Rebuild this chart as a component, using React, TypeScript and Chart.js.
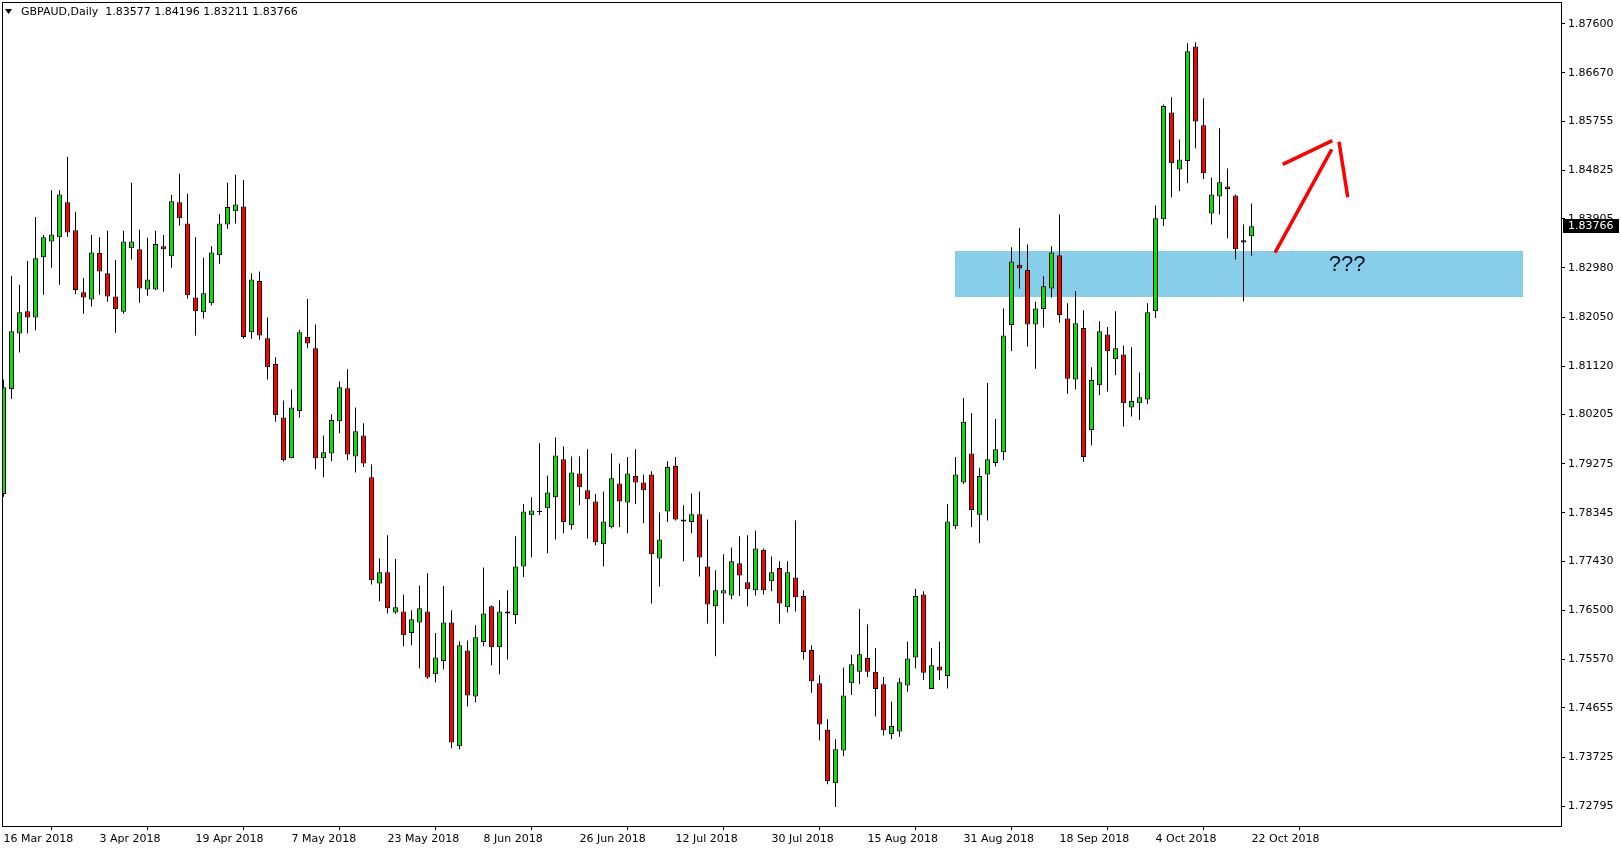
import React, { useEffect, useRef } from "react";
import { Chart, registerables } from "chart.js";

Chart.register(...registerables);

// ---- Data (GBPAUD daily, 16 Mar 2018 .. 22 Oct 2018) ----
const OPEN = [
  1.7870, 1.8069, 1.8174, 1.8216, 1.8204, 1.8318, 1.8348, 1.8356, 1.8422, 1.8369,
  1.8252, 1.8238, 1.8326, 1.8288, 1.8244, 1.8215, 1.8335, 1.8333, 1.8257, 1.8257,
  1.8339, 1.8320, 1.8422, 1.8382, 1.8242, 1.8214, 1.8231, 1.8322, 1.8380, 1.8405,
  1.8414, 1.8176, 1.8273, 1.8165, 1.8116, 1.8015, 1.7938, 1.8027, 1.8167, 1.8146,
  1.7938, 1.7947, 1.8008, 1.8070, 1.7941, 1.7981, 1.7902, 1.7701, 1.7722, 1.7646,
  1.7648, 1.7607, 1.7627, 1.7648, 1.7529, 1.7554, 1.7627, 1.7393, 1.7574, 1.7487,
  1.7590, 1.7658, 1.7580, 1.7648, 1.7641, 1.7733, 1.7830, 1.7836, 1.7843, 1.7864,
  1.7936, 1.7811, 1.7909, 1.7877, 1.7856, 1.7775, 1.7807, 1.7890, 1.7854, 1.7904,
  1.7892, 1.7907, 1.7748, 1.7837, 1.7923, 1.7822, 1.7817, 1.7832, 1.7733, 1.7658,
  1.7682, 1.7678, 1.7739, 1.7703, 1.7688, 1.7764, 1.7705, 1.7730, 1.7656, 1.7712,
  1.7677, 1.7575, 1.7512, 1.7424, 1.7323, 1.7385, 1.7512, 1.7534, 1.7560, 1.7534,
  1.7510, 1.7416, 1.7421, 1.7508, 1.7561, 1.7680, 1.7501, 1.7544, 1.7526, 1.7809,
  1.7892, 1.7947, 1.7831, 1.7907, 1.7929, 1.7949, 1.8190, 1.8304, 1.8294, 1.8191,
  1.8220, 1.8259, 1.8322, 1.8202, 1.8087, 1.8184, 1.7991, 1.8076, 1.8172, 1.8125,
  1.8134, 1.8034, 1.8042, 1.8049, 1.8216, 1.8390, 1.8592, 1.8484, 1.8500, 1.8717,
  1.8568, 1.8401, 1.8433, 1.8452, 1.8435, 1.8350, 1.83577,
];
const HIGH = [
  1.8087, 1.8283, 1.8266, 1.8311, 1.8394, 1.8360, 1.8445, 1.8445, 1.8508, 1.8404,
  1.8279, 1.8360, 1.8356, 1.8368, 1.8313, 1.8368, 1.8459, 1.8370, 1.8355, 1.8368,
  1.8360, 1.8436, 1.8476, 1.8438, 1.8356, 1.8317, 1.8339, 1.8400, 1.8459, 1.8474,
  1.8464, 1.8288, 1.8291, 1.8204, 1.8129, 1.8047, 1.8068, 1.8181, 1.8239, 1.8191,
  1.7981, 1.8021, 1.8083, 1.8106, 1.8034, 1.8004, 1.7926, 1.7748, 1.7792, 1.7747,
  1.7680, 1.7650, 1.7697, 1.7720, 1.7607, 1.7696, 1.7650, 1.7591, 1.7593, 1.7622,
  1.7731, 1.7659, 1.7669, 1.7688, 1.7790, 1.7851, 1.7864, 1.7966, 1.7905, 1.7977,
  1.7960, 1.7941, 1.7941, 1.7955, 1.7870, 1.7875, 1.7947, 1.7928, 1.7940, 1.7955,
  1.7907, 1.7913, 1.7835, 1.7932, 1.7940, 1.7849, 1.7871, 1.7875, 1.7822, 1.7726,
  1.7756, 1.7769, 1.7790, 1.7792, 1.7801, 1.7767, 1.7752, 1.7743, 1.7743, 1.7820,
  1.7688, 1.7584, 1.7527, 1.7444, 1.7406, 1.7542, 1.7566, 1.7653, 1.7623, 1.7579,
  1.7524, 1.7477, 1.7522, 1.7591, 1.7691, 1.7686, 1.7579, 1.7591, 1.7851, 1.7940,
  1.8052, 1.8023, 1.7920, 1.8080, 1.8012, 1.8221, 1.8337, 1.8374, 1.8342, 1.8234,
  1.8282, 1.8339, 1.8399, 1.8231, 1.8254, 1.8218, 1.8110, 1.8197, 1.8186, 1.8216,
  1.8151, 1.8148, 1.8100, 1.8231, 1.8416, 1.8607, 1.8621, 1.8541, 1.8723, 1.8725,
  1.8619, 1.8469, 1.8562, 1.8486, 1.8437, 1.8380, 1.84196,
];
const LOW = [
  1.7865, 1.8050, 1.8138, 1.8174, 1.8180, 1.8247, 1.8298, 1.8266, 1.8357, 1.8248,
  1.8211, 1.8225, 1.8247, 1.8234, 1.8175, 1.8211, 1.8314, 1.8232, 1.8245, 1.8256,
  1.8253, 1.8298, 1.8378, 1.8240, 1.8170, 1.8202, 1.8227, 1.8306, 1.8372, 1.8382,
  1.8164, 1.8164, 1.8162, 1.8087, 1.8007, 1.7931, 1.7938, 1.8015, 1.8146, 1.7917,
  1.7902, 1.7932, 1.7985, 1.7934, 1.7911, 1.7921, 1.7699, 1.7667, 1.7644, 1.7643,
  1.7582, 1.7584, 1.7540, 1.7520, 1.7514, 1.7538, 1.7389, 1.7387, 1.7468, 1.7476,
  1.7582, 1.7546, 1.7529, 1.7557, 1.7624, 1.7713, 1.7750, 1.7830, 1.7758, 1.7784,
  1.7796, 1.7803, 1.7849, 1.7786, 1.7773, 1.7733, 1.7805, 1.7807, 1.7796, 1.7851,
  1.7815, 1.7663, 1.7695, 1.7817, 1.7820, 1.7743, 1.7796, 1.7714, 1.7625, 1.7563,
  1.7625, 1.7671, 1.7677, 1.7658, 1.7678, 1.7680, 1.7686, 1.7625, 1.7646, 1.7648,
  1.7557, 1.7494, 1.7404, 1.7321, 1.7278, 1.7374, 1.7490, 1.7510, 1.7524, 1.7449,
  1.7413, 1.7406, 1.7411, 1.7496, 1.7540, 1.7518, 1.7501, 1.7518, 1.7502, 1.7804,
  1.7889, 1.7807, 1.7777, 1.7820, 1.7922, 1.7934, 1.8140, 1.8259, 1.8149, 1.8107,
  1.8185, 1.8242, 1.8194, 1.8060, 1.8068, 1.7931, 1.7962, 1.8057, 1.8064, 1.8095,
  1.7998, 1.8017, 1.8010, 1.8040, 1.8203, 1.8377, 1.8431, 1.8443, 1.8458, 1.8524,
  1.8466, 1.8380, 1.8399, 1.8354, 1.8314, 1.8235, 1.83211,
];
const CLOSE = [
  1.8072, 1.8178, 1.8214, 1.8204, 1.8316, 1.8356, 1.8361, 1.8437, 1.8365, 1.8256,
  1.8242, 1.8327, 1.8291, 1.8244, 1.8220, 1.8348, 1.8348, 1.8259, 1.8276, 1.8343,
  1.8333, 1.8424, 1.8392, 1.8246, 1.8216, 1.8250, 1.8327, 1.8382, 1.8413, 1.8418,
  1.8167, 1.8276, 1.8170, 1.8110, 1.8019, 1.7934, 1.8034, 1.8176, 1.8155, 1.7938,
  1.7949, 1.8010, 1.8072, 1.7945, 1.7989, 1.7928, 1.7707, 1.7722, 1.7654, 1.7656,
  1.7603, 1.7633, 1.7654, 1.7523, 1.7561, 1.7627, 1.7400, 1.7584, 1.7489, 1.7599,
  1.7644, 1.7580, 1.7648, 1.7644, 1.7733, 1.7837, 1.7839, 1.7838, 1.7873, 1.7943,
  1.7817, 1.7911, 1.7883, 1.7860, 1.7779, 1.7818, 1.7900, 1.7856, 1.7909, 1.7892,
  1.7877, 1.7756, 1.7784, 1.7921, 1.7822, 1.7818, 1.7832, 1.7750, 1.7661, 1.7688,
  1.7688, 1.7743, 1.7716, 1.7690, 1.7767, 1.7688, 1.7722, 1.7663, 1.7722, 1.7675,
  1.7571, 1.7516, 1.7434, 1.7327, 1.7387, 1.7489, 1.7548, 1.7567, 1.7534, 1.7501,
  1.7423, 1.7431, 1.7514, 1.7559, 1.7677, 1.7532, 1.7546, 1.7536, 1.7818, 1.7907,
  1.8007, 1.7840, 1.7904, 1.7936, 1.7955, 1.8170, 1.8310, 1.8297, 1.8191, 1.8221,
  1.8263, 1.8327, 1.8209, 1.8088, 1.8193, 1.7940, 1.8086, 1.8178, 1.8140, 1.8146,
  1.8042, 1.8046, 1.8053, 1.8214, 1.8392, 1.8604, 1.8496, 1.8503, 1.8708, 1.8575,
  1.8477, 1.8437, 1.8460, 1.8447, 1.8333, 1.8346, 1.83766,
];

const DATE_TICK_INDEX = [0, 12, 24, 36, 48, 60, 72, 84, 96, 108, 120, 132, 144, 156];
const DATE_LABELS = [
  "16 Mar 2018", "3 Apr 2018", "19 Apr 2018", "7 May 2018", "23 May 2018",
  "8 Jun 2018", "26 Jun 2018", "12 Jul 2018", "30 Jul 2018", "15 Aug 2018",
  "31 Aug 2018", "18 Sep 2018", "4 Oct 2018", "22 Oct 2018",
];
const PRICE_TICKS = [
  1.876, 1.8667, 1.85755, 1.84825, 1.83905, 1.8298, 1.8205, 1.8112, 1.80205,
  1.79275, 1.78345, 1.7743, 1.765, 1.7557, 1.74655, 1.73725, 1.72795,
];
const Y_RANGE = [1.7242, 1.8801];
const X_RANGE = [-0.1875, 194.6875];

// Annotations (bar index / price)
const ZONE_X = [118.94, 189.94];
const ZONE_Y = [1.82429, 1.83299];
const ARROW_X = [[158.94, 166.03], [159.9, 166.1], [166.94, 168.03]];
const ARROW_Y = [[1.83267, 1.85223], [1.84939, 1.85386], [1.85367, 1.84315]];
const NOTE_POS = [167.94, 1.83034];
const NOTE_TEXT = "???";
const SYMBOL = "GBPAUD";
const PERIOD = "Daily";

const GREEN = "#00e600";
const RED = "#ff0000";
const FONT = "'DejaVu Sans', 'Liberation Sans', sans-serif";

const overlayPlugin = {
  id: "mt4overlay",
  beforeDatasetsDraw(chart: any) {
    const { ctx, scales } = chart;
    const xs = scales.x, ys = scales.y;
    const x0 = Math.round(xs.getPixelForValue(ZONE_X[0]));
    const x1 = Math.round(xs.getPixelForValue(ZONE_X[1]));
    const y0 = Math.round(ys.getPixelForValue(ZONE_Y[1]));
    const y1 = Math.round(ys.getPixelForValue(ZONE_Y[0]));
    ctx.save();
    ctx.fillStyle = "#87ceeb";
    ctx.fillRect(x0, y0, x1 - x0, y1 - y0);
    ctx.restore();
  },
  afterDatasetsDraw(chart: any) {
    const { ctx, scales } = chart;
    const xs = scales.x, ys = scales.y;
    ctx.save();
    ctx.fillStyle = "#111122";
    ctx.font = "22px 'Liberation Sans', Arial, sans-serif";
    ctx.textAlign = "center";
    ctx.textBaseline = "middle";
    ctx.fillText(NOTE_TEXT, xs.getPixelForValue(NOTE_POS[0]), ys.getPixelForValue(NOTE_POS[1]));
    ctx.strokeStyle = "#ff0000";
    ctx.lineWidth = 3.5;
    ctx.lineCap = "butt";
    for (let k = 0; k < ARROW_X.length; k++) {
      ctx.beginPath();
      ctx.moveTo(xs.getPixelForValue(ARROW_X[k][0]), ys.getPixelForValue(ARROW_Y[k][0]));
      ctx.lineTo(xs.getPixelForValue(ARROW_X[k][1]), ys.getPixelForValue(ARROW_Y[k][1]));
      ctx.stroke();
    }
    ctx.restore();
  },
  afterDraw(chart: any) {
    const { ctx, chartArea, scales } = chart;
    const ys = scales.y;
    ctx.save();
    // frame
    ctx.strokeStyle = "#000";
    ctx.lineWidth = 1;
    ctx.strokeRect(chartArea.left + 0.5, chartArea.top + 0.5,
      chartArea.right - chartArea.left, chartArea.bottom - chartArea.top);
    // current price label
    const last = CLOSE[CLOSE.length - 1];
    const py = Math.round(ys.getPixelForValue(last));
    ctx.fillStyle = "#000";
    ctx.fillRect(chartArea.right + 2, py - 7, 56, 14);
    ctx.fillStyle = "#fff";
    ctx.font = "11px " + FONT;
    ctx.textAlign = "left";
    ctx.textBaseline = "middle";
    ctx.fillText(last.toFixed(5), chartArea.right + 7, py + 0.5);
    // title
    const n = OPEN.length - 1;
    ctx.fillStyle = "#000";
    ctx.beginPath();
    ctx.moveTo(5, 9);
    ctx.lineTo(12, 9);
    ctx.lineTo(8.5, 14);
    ctx.closePath();
    ctx.fill();
    const title = `${SYMBOL},${PERIOD}  ${OPEN[n].toFixed(5)} ${HIGH[n].toFixed(5)} ${LOW[n].toFixed(5)} ${CLOSE[n].toFixed(5)}`;
    ctx.fillText(title, 21, 12.5);
    ctx.restore();
  },
};

export default function App() {
  const ref = useRef<HTMLCanvasElement | null>(null);

  useEffect(() => {
    if (!ref.current) return;
    const idx = OPEN.map((_, i) => i);
    const bodies = idx.map((i) => ({ x: i, y: [OPEN[i], CLOSE[i]] }));
    const wicks = idx.map((i) => ({ x: i, y: [LOW[i], HIGH[i]] }));
    const colors = idx.map((i) => (CLOSE[i] >= OPEN[i] ? GREEN : RED));

    const chart = new Chart(ref.current, {
      type: "bar",
      data: {
        datasets: [
          {
            label: "body",
            data: bodies as any,
            backgroundColor: colors,
            borderColor: "#000",
            borderWidth: 1,
            borderSkipped: false,
            barThickness: 5,
            grouped: false,
            inflateAmount: 0,
            order: 0,
          } as any,
          {
            label: "wick",
            data: wicks as any,
            backgroundColor: "#000",
            borderWidth: 0,
            barThickness: 1,
            grouped: false,
            inflateAmount: 0,
            order: 1,
          } as any,
        ],
      },
      options: {
        responsive: false,
        animation: false,
        devicePixelRatio: 1,
        events: [],
        layout: { padding: { left: 2, top: 2, right: 0, bottom: 0 } },
        plugins: { legend: { display: false }, tooltip: { enabled: false } },
        scales: {
          x: {
            type: "linear",
            min: X_RANGE[0],
            max: X_RANGE[1],
            bounds: "data",
            offset: false,
            border: { display: false },
            grid: { drawOnChartArea: false, drawTicks: true, tickLength: 4, color: "#000" },
            ticks: {
              autoSkip: false,
              maxRotation: 0,
              minRotation: 0,
              align: "start",
              padding: 3,
              color: "#000",
              font: { family: FONT, size: 11 },
              callback: (_v: any, i: number) => DATE_LABELS[i],
            },
            afterBuildTicks: (s: any) => {
              s.ticks = DATE_TICK_INDEX.map((v) => ({ value: v }));
            },
            afterFit: (s: any) => {
              s.height = 24;
              s.paddingLeft = 0;
              s.paddingRight = 0;
            },
          } as any,
          y: {
            type: "linear",
            position: "right",
            min: Y_RANGE[0],
            max: Y_RANGE[1],
            bounds: "data",
            border: { display: false },
            grid: { drawOnChartArea: false, drawTicks: true, tickLength: 4, color: "#000" },
            ticks: {
              autoSkip: false,
              padding: 3,
              color: "#000",
              font: { family: FONT, size: 11 },
              callback: (v: any) => Number(v).toFixed(5),
            },
            afterBuildTicks: (s: any) => {
              s.ticks = PRICE_TICKS.map((v) => ({ value: v }));
            },
            afterFit: (s: any) => {
              s.width = 60;
              s.paddingTop = 0;
              s.paddingBottom = 0;
            },
          } as any,
        },
      },
      plugins: [overlayPlugin as any],
    });
    return () => chart.destroy();
  }, []);

  return (
    <canvas
      ref={ref}
      width={1621}
      height={850}
      style={{ position: "fixed", left: 0, top: 0, width: 1621, height: 850, background: "#fff" }}
    />
  );
}
